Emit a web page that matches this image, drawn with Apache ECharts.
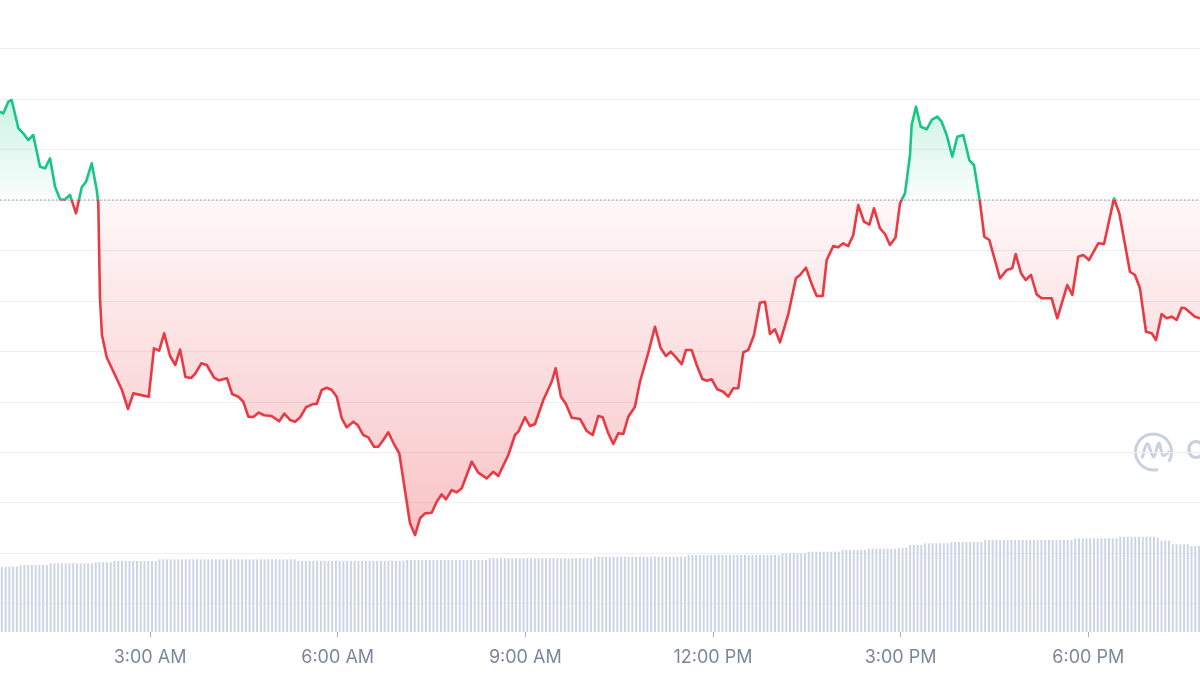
<!DOCTYPE html>
<html>
<head>
<meta charset="utf-8">
<script src="https://cdn.jsdelivr.net/npm/echarts@6/dist/echarts.min.js"></script>
<style>
html,body{margin:0;padding:0;background:#fff;}
#c{width:1200px;height:675px;}
</style>
</head>
<body>
<div id="c"></div>
<script>
// ---- data (minutes since midnight, price in USD) ----
const openPrice = 64000;
const tickMinutes = [180, 360, 540, 720, 900, 1080];
const priceMinutes = [36.1,39.3,44.1,47.3,48.9,53.7,58.4,63.2,68.0,74.5,79.3,84.1,88.9,93.7,98.4,103.2,109.0,114.5,118.6,124.1,128.9,130.4,132.0,133.9,138.5,146.4,153.1,158.9,164.0,178.8,183.8,188.8,193.6,199.2,204.2,208.8,214.0,219.3,223.2,229.2,234.4,241.4,246.2,253.9,258.8,264.7,269.5,274.3,279.1,284.4,289.3,296.7,303.9,308.8,314.3,319.1,323.9,329.6,336.1,339.9,344.7,349.5,354.3,359.1,363.9,368.7,375.0,379.2,384.6,389.4,394.9,399.0,403.8,408.6,414.0,419.1,429.4,434.2,439.0,443.8,450.2,455.0,459.8,463.9,469.4,474.2,479.0,488.6,494.9,503.0,509.3,514.1,523.7,530.1,533.3,539.7,544.5,549.3,557.3,565.3,569.1,574.2,579.0,584.5,592.5,598.9,604.6,610.0,614.2,619.6,624.4,629.2,634.0,638.8,645.2,650.0,658.0,664.4,669.9,674.9,679.5,684.5,690.0,694.1,699.6,704.4,709.8,714.0,718.8,724.2,729.9,734.7,739.5,744.3,749.1,753.9,759.4,765.1,769.9,774.7,779.5,784.3,792.3,799.6,803.5,809.2,814.7,819.5,825.3,829.1,835.4,840.2,845.0,849.8,854.6,859.4,864.9,870.0,874.5,880.2,885.0,889.8,895.1,899.4,904.2,909.0,910.6,914.8,919.3,925.0,929.8,935.2,939.4,944.2,949.6,954.4,960.1,965.9,970.4,976.1,980.3,985.1,995.3,1001.8,1007.1,1010.4,1015.5,1020.0,1025.1,1030.5,1035.3,1044.9,1050.3,1059.9,1064.7,1070.4,1075.2,1080.7,1089.6,1095.1,1104.7,1109.8,1120.0,1124.8,1129.6,1135.4,1140.9,1145.0,1150.4,1155.2,1160.0,1164.8,1169.6,1172.8,1182.4,1187.2];
const priceValues = [64087.5,64085.9,64097.4,64099.1,64097.4,64071.1,64066.1,64059.5,64064.4,64033.0,64031.4,64041.3,64013.2,64000.7,64000.5,64005.0,63986.8,64012.6,64018.1,64036.4,64009.9,63996.7,63902.9,63866.2,63843.9,63826.6,63811.7,63792.9,63808.4,63805.1,63853.0,63850.7,63867.9,63845.4,63836.5,63851.8,63824.6,63823.6,63827.6,63838.2,63836.5,63824.1,63821.3,63823.3,63807.7,63805.1,63800.1,63785.3,63785.0,63789.4,63786.7,63785.9,63780.7,63788.2,63782.0,63780.3,63784.5,63794.6,63797.8,63797.8,63811.7,63814.0,63811.7,63805.1,63783.7,63774.7,63780.3,63777.0,63767.1,63764.8,63755.5,63755.5,63762.2,63769.8,63758.2,63749.0,63679.6,63668.0,63684.6,63689.5,63690.1,63701.0,63708.4,63703.4,63712.6,63710.3,63714.3,63740.7,63729.8,63724.2,63730.7,63726.5,63747.3,63767.1,63770.4,63784.7,63776.0,63778.0,63801.8,63819.9,63833.2,63805.1,63797.8,63784.3,63783.0,63771.1,63767.1,63785.9,63784.7,63768.8,63758.2,63768.8,63768.1,63785.3,63795.2,63819.9,63848.7,63874.4,63853.0,63845.4,63849.7,63844.1,63837.2,63851.3,63851.3,63836.5,63822.6,63820.9,63822.3,63812.4,63810.0,63805.1,63813.4,63813.4,63849.1,63851.3,63866.2,63898.2,63899.2,63867.2,63871.9,63859.0,63887.0,63922.4,63925.7,63932.9,63916.8,63904.9,63904.9,63940.5,63954.4,63953.1,63957.1,63954.4,63965.3,63995.0,63978.5,63975.7,63991.8,63972.0,63966.3,63955.4,63962.8,63996.7,64006.6,64044.6,64074.3,64092.5,64072.6,64070.1,64079.3,64082.6,64077.6,64064.4,64042.9,64062.7,64064.4,64039.6,64034.7,63998.3,63963.6,63960.4,63922.4,63930.6,63932.3,63946.5,63927.4,63920.7,63925.7,63906.5,63902.6,63902.6,63882.8,63915.8,63905.9,63943.8,63945.5,63940.5,63957.1,63956.4,64001.5,63986.8,63928.9,63925.7,63912.5,63869.5,63867.9,63861.3,63887.0,63882.8,63884.4,63881.1,63893.3,63892.7,63884.4,63882.8];
// 24h volume (USD billions), one bar every 3.6 minutes starting at 37.9 min
const volumeStart = 37.9;
const volumeStep = 3.6;
const volumeValues = [
32.65,32.65,32.65,32.65,32.65,
33.5,33.5,33.5,33.5,33.5,33.5,33.5,33.5,
34.35,34.35,34.35,34.35,34.35,34.35,34.35,34.35,34.35,34.35,34.35,34.35,
34.85,34.85,34.85,34.85,34.85,
35.5,35.5,35.5,35.5,35.5,35.5,35.5,35.5,35.5,35.5,35.5,35.5,
36.35,36.35,36.35,36.35,36.35,36.35,36.35,36.35,36.35,36.35,36.35,36.35,36.35,36.35,36.35,36.35,36.35,36.35,36.35,36.35,36.35,36.35,36.35,36.35,36.35,36.35,36.35,36.35,36.35,36.35,36.35,36.35,36.35,36.35,36.35,36.35,36.35,
35.6,35.6,35.6,35.6,35.6,35.6,35.6,35.6,35.6,35.6,35.6,35.6,35.6,35.6,35.6,35.6,35.6,35.6,35.6,35.6,35.6,35.6,35.6,35.6,35.6,35.6,35.6,35.6,35.6,
36,36,36,36,36,36,36,36,36,36,36,36,36,36,36,36,36,36,36,36,36,36,
36.85,36.85,36.85,36.85,36.85,36.85,36.85,36.85,36.85,36.85,36.85,36.85,36.85,36.85,36.85,36.85,36.85,36.85,36.85,36.85,36.85,36.85,36.85,36.85,36.85,36.85,36.85,36.85,
37.65,37.65,37.65,37.65,37.65,37.65,37.65,37.65,37.65,37.65,37.65,37.65,37.65,37.65,37.65,37.65,37.65,37.65,37.65,37.65,37.65,37.65,37.65,37.65,37.65,
38.5,38.5,38.5,38.5,38.5,38.5,38.5,38.5,38.5,38.5,38.5,38.5,38.5,38.5,38.5,38.5,38.5,38.5,38.5,38.5,38.5,38.5,38.5,38.5,38.5,
39.35,39.35,39.35,39.35,39.35,39.35,39.35,
40.15,40.15,40.15,40.15,40.15,40.15,40.15,40.15,40.15,
41,41,41,41,41,41,41,
41.65,41.65,41.65,41.65,41.65,41.65,41.65,41.65,
42.15,42.15,42.15,
43.5,43.5,43.5,43.5,
44.35,44.35,44.35,44.35,44.35,44.35,44.35,
45,45,45,45,45,45,45,45,45,
46,46,46,46,46,46,46,46,46,46,46,46,46,46,46,46,46,46,46,46,46,46,46,46,
46.85,46.85,46.85,46.85,46.85,46.85,46.85,46.85,46.85,46.85,46.85,46.85,
47.65,47.65,47.65,47.65,47.65,47.65,47.65,47.65,47.65,47.65,
47.15,
45.65,45.65,45.65,
43.85,43.85,43.85,43.85,43.85,
43,43,43
];

const xMin = 36.1, xMax = 1187.2;
const yMin = 63600, yMax = 64150;
const GREEN = '#16c784', RED = '#ea3943';
const H = 675;
const gridTop = 48.65, gridH = 555;
const baseY = gridTop + (yMax - openPrice) / (yMax - yMin) * gridH;
const bo = baseY / H;

const n = Math.min(priceMinutes.length, priceValues.length);
const priceData = [];
for (let i = 0; i < n; i++) priceData.push([priceMinutes[i], priceValues[i]]);
const volumeData = volumeValues.map((v, i) => [volumeStart + i * volumeStep, v]);

function fmtTime(v) {
  const h = Math.round(v / 60);
  const ap = h >= 12 ? 'PM' : 'AM';
  const hh = h % 12 === 0 ? 12 : h % 12;
  return hh + ':00 ' + ap;
}

const areaTop = 100, areaBot = 540;
const ao = (baseY - areaTop) / (areaBot - areaTop);

const chart = echarts.init(document.getElementById('c'), null, {renderer: 'canvas'});
chart.setOption({
  animation: false,
  backgroundColor: '#ffffff',
  grid: [
    {left: 0, right: 0, top: gridTop, height: gridH},
    {left: 0, right: 0, top: 532, height: 100}
  ],
  xAxis: [
    {type: 'value', gridIndex: 0, min: xMin, max: xMax, show: false},
    {
      type: 'value', gridIndex: 1, min: xMin, max: xMax,
      axisLine: {show: false},
      splitLine: {show: false},
      axisTick: {show: true, length: 5, customValues: tickMinutes, lineStyle: {color: '#a6afc2', width: 1}},
      axisLabel: {
        customValues: tickMinutes, formatter: fmtTime,
        color: '#7d879b', fontFamily: 'Inter', fontSize: 18, margin: 17
      }
    }
  ],
  yAxis: [
    {
      type: 'value', gridIndex: 0, min: yMin, max: yMax, interval: 50,
      axisLine: {show: false}, axisTick: {show: false}, axisLabel: {show: false},
      splitLine: {show: true, lineStyle: {color: '#eceff4', width: 1}}
    },
    {
      type: 'value', gridIndex: 1, min: 0, max: 50,
      show: false, splitLine: {show: false}
    }
  ],
  graphic: [
    {type: 'arc', shape: {cx: 1153.5, cy: 452, r: 18, startAngle: Math.PI * 0.42, endAngle: Math.PI * 2.18},
     style: {stroke: '#c9d0df', lineWidth: 3, fill: null}, silent: true, z: 0},
    {type: 'polyline', shape: {points: [[1142.5, 457], [1147.5, 443.5], [1153.5, 457], [1159, 443], [1163, 455.5], [1168.5, 452]], smooth: 0.35},
     style: {stroke: '#c9d0df', lineWidth: 3, fill: null, lineCap: 'round', lineJoin: 'round'}, silent: true, z: 0},
    {type: 'text', left: 1186, top: 438,
     style: {text: 'CoinMarketCap', fill: '#c9d0df', font: '600 26px Inter'}, silent: true, z: 0}
  ],
  series: [
    {
      type: 'line', xAxisIndex: 0, yAxisIndex: 0,
      data: priceData, showSymbol: false, symbol: 'none', smooth: false,
      lineStyle: {
        width: 2.6, join: 'round',
        color: {
          type: 'linear', global: true, x: 0, y: 0, x2: 0, y2: H,
          colorStops: [
            {offset: 0, color: GREEN},
            {offset: bo, color: GREEN},
            {offset: bo, color: RED},
            {offset: 1, color: RED}
          ]
        }
      },
      areaStyle: {
        origin: openPrice,
        opacity: 1,
        color: {
          type: 'linear', global: true, x: 0, y: areaTop, x2: 0, y2: areaBot,
          colorStops: [
            {offset: 0, color: 'rgba(22,199,132,0.22)'},
            {offset: ao - 0.0005, color: 'rgba(22,199,132,0.02)'},
            {offset: ao, color: 'rgba(234,57,67,0.04)'},
            {offset: 1, color: 'rgba(234,57,67,0.30)'}
          ]
        }
      },
      z: 3
    },
    {
      type: 'line', xAxisIndex: 0, yAxisIndex: 0,
      data: [[xMin, openPrice], [xMax, openPrice]],
      showSymbol: false, symbol: 'none', silent: true,
      lineStyle: {type: [1.5, 2.5], color: '#8792ab', width: 1.2},
      z: 2
    },
    {
      type: 'bar', xAxisIndex: 1, yAxisIndex: 1,
      data: volumeData, barWidth: 2,
      itemStyle: {color: '#cdd5e5'},
      silent: true, z: 2
    }
  ]
});
</script>
</body>
</html>
